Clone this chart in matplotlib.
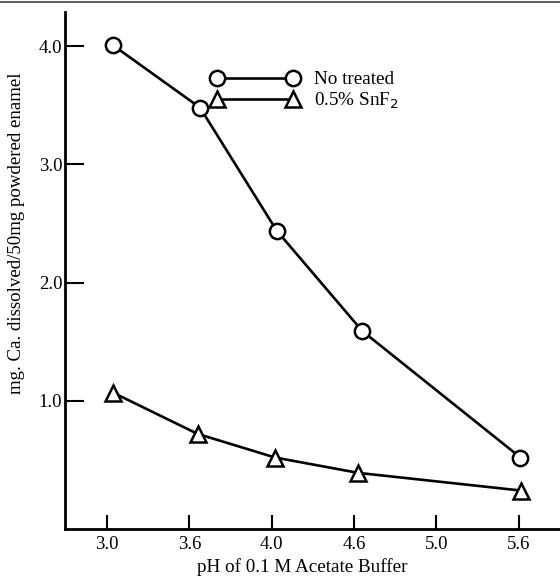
import matplotlib
matplotlib.use("Agg")
import matplotlib.pyplot as plt
from matplotlib.lines import Line2D

tick_labels = ["3.0", "3.6", "4.0", "4.6", "5.0", "5.6"]
tick_pos = [0, 1, 2, 3, 4, 5]
y_ticks = [1.0, 2.0, 3.0, 4.0]

# positions on the (equally spaced) pH tick scale
x_untreated = [0.07, 1.13, 2.06, 3.10, 5.02]
y_untreated = [4.01, 3.48, 2.44, 1.59, 0.52]
x_snf2 = [0.07, 1.10, 2.04, 3.05, 5.03]
y_snf2 = [1.07, 0.72, 0.52, 0.39, 0.24]

plt.rcParams['font.family'] = ['Liberation Serif', 'DejaVu Serif']

fig = plt.figure(figsize=(5.6, 5.78), dpi=100)
ax = fig.add_axes([65/560, 1-529/578, 1-65/560, (529-12)/578])

ax.plot(x_untreated, y_untreated, color='black', lw=1.9, marker='o', ms=11,
        mfc='white', mec='black', mew=1.8, label='No treated')
ax.plot(x_snf2, y_snf2, color='black', lw=1.9, marker='^', ms=11,
        mfc='white', mec='black', mew=1.8, label='0.5% SnF$_2$')

ax.set_xlim(-0.51, 5.5)
ax.set_ylim(-0.085, 4.29)
ax.set_xticks(tick_pos)
ax.set_xticklabels(tick_labels)
ax.set_yticks(y_ticks)
ax.set_yticklabels([f"{v:.1f}" for v in y_ticks])
ax.tick_params(axis='x', direction='in', length=10, width=1.5, labelsize=13.5, pad=5)
ax.tick_params(axis='y', direction='in', length=14, width=1.5, labelsize=13.5, pad=2)

for s in ['top', 'right']:
    ax.spines[s].set_visible(False)
for s in ['left', 'bottom']:
    ax.spines[s].set_linewidth(2.0)

ax.set_xlabel("pH of 0.1 M Acetate Buffer", fontsize=13.8)
ax.xaxis.set_label_coords(0.479, -0.057)
ax.set_ylabel("mg. Ca. dissolved/50mg powdered enamel", fontsize=13.6)
ax.yaxis.set_label_coords(-0.08, 0.573)

leg = ax.legend(loc='upper left', bbox_to_anchor=(211/560, 1-71/578),
                bbox_transform=fig.transFigure, frameon=False, numpoints=2,
                handlelength=4.6, handletextpad=0.8, labelspacing=0.12,
                fontsize=13.8, borderpad=0, borderaxespad=0)

fig.add_artist(Line2D([0, 1], [1-2/578, 1-2/578], transform=fig.transFigure,
                      color='#444444', lw=1.2))

fig.savefig("out.png", dpi=100)
